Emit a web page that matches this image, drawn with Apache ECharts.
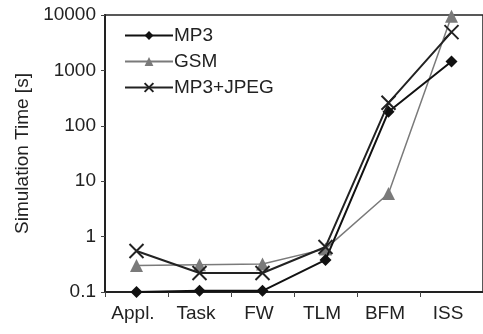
<!DOCTYPE html>
<html><head><meta charset="utf-8">
<script src="https://cdn.jsdelivr.net/npm/echarts@6/dist/echarts.min.js"></script>
<style>html,body{margin:0;padding:0;background:#fff}#c{width:483px;height:334px}</style>
</head><body><div id="c"></div>
<script>
const categories = ['Appl.', 'Task', 'FW', 'TLM', 'BFM', 'ISS'];
const mp3 = [0.1, 0.105, 0.105, 0.38, 180, 1450];
const gsm = [0.3, 0.31, 0.32, 0.6, 6, 9500];
const mp3jpeg = [0.55, 0.22, 0.22, 0.65, 260, 4900];
const yTicks = [0.1, 1, 10, 100, 1000, 10000];

const font = 'Liberation Sans, Arial, sans-serif';
const chart = echarts.init(document.getElementById('c'));
chart.setOption({
  animation: false,
  grid: { left: 105, top: 15, bottom: 42, width: 387, show: true, borderColor: '#222', borderWidth: 1.5, containLabel: false },
  legend: {
    left: 119, top: 21, orient: 'vertical', itemWidth: 48, itemHeight: 11, itemGap: 7,
    textStyle: { fontFamily: font, fontSize: 19, color: '#222', padding: [0, 0, 0, -4] },
    data: ['MP3', 'GSM', 'MP3+JPEG']
  },
  xAxis: {
    type: 'category', data: categories, boundaryGap: true,
    axisLine: { lineStyle: { color: '#222', width: 2 } },
    axisTick: { show: true, length: 5, lineStyle: { color: '#444', width: 1 } },
    axisLabel: { fontFamily: font, fontSize: 19, color: '#222', margin: 12, padding: [0, 7, 0, 0] }
  },
  yAxis: {
    type: 'log', logBase: 10, min: yTicks[0], max: yTicks[yTicks.length - 1],
    name: 'Simulation Time [s]', nameLocation: 'middle', nameGap: 70,
    nameTextStyle: { fontFamily: font, fontSize: 19, color: '#222' },
    axisLine: { show: true, lineStyle: { color: '#222', width: 2 } },
    axisTick: { show: true, length: 4, lineStyle: { color: '#444' } },
    splitLine: { show: false },
    minorTick: { show: false },
    axisLabel: { fontFamily: font, fontSize: 19, color: '#222', margin: 9,
      formatter: v => { const r = yTicks.find(t => Math.abs(Math.log10(t) - Math.log10(v)) < 1e-6); return r !== undefined ? String(r) : ''; } }
  },
  series: [
    { name: 'MP3', type: 'line', data: mp3, symbol: 'diamond', symbolSize: 12,
      lineStyle: { color: '#111', width: 2 }, itemStyle: { color: '#111' }, z: 3 },
    { name: 'GSM', type: 'line', data: gsm, symbol: 'triangle', symbolSize: 13,
      lineStyle: { color: '#7a7a7a', width: 1.5 }, itemStyle: { color: '#7a7a7a' }, z: 2 },
    { name: 'MP3+JPEG', type: 'line', data: mp3jpeg, symbol: 'path://M0,0L10,10M10,0L0,10', symbolSize: 14,
      lineStyle: { color: '#222', width: 2 }, itemStyle: { color: 'none', borderColor: '#222', borderWidth: 2 }, z: 4 }
  ]
});
</script></body></html>
